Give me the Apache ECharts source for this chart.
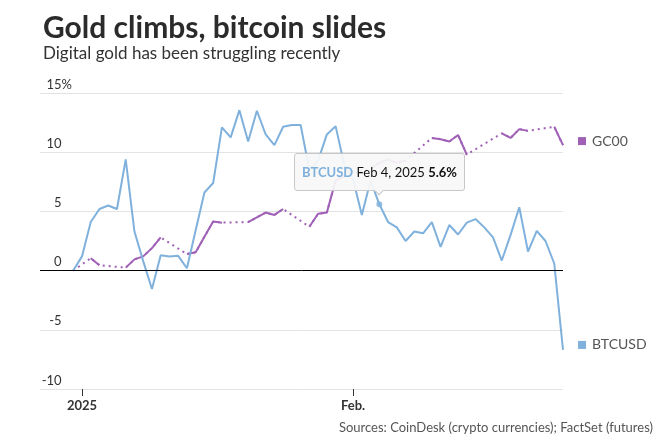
<!DOCTYPE html>
<html>
<head>
<meta charset="utf-8">
<script src="https://cdn.jsdelivr.net/npm/echarts@6/dist/echarts.min.js"></script>
<style>
html, body { margin: 0; padding: 0; background: #fff; }
#chart { width: 670px; height: 443px; }
</style>
</head>
<body>
<div id="chart"></div>
<script>
// bitcoin: daily % change since Dec 31, one value per calendar day
var btcStart = '2024-12-31';
var btcValues = [
  0, 1.2, 4.1, 5.2, 5.5, 5.2, 9.4, 3.3, 0.8, -1.55, 1.3, 1.2, 1.25, 0.2, 3.4,
  6.6, 7.4, 12.1, 11.25, 13.55, 10.9, 13.5, 11.5, 10.6, 12.15, 12.3, 12.3, 8.5, 9.3,
  11.5, 12.2, 8.9, 7.7, 4.7, 7.6, 5.6, 4.1, 3.65, 2.5, 3.3, 3.15, 4.1, 2.0, 3.85,
  3.05, 4.05, 4.35, 3.65, 2.8, 0.85, 3.0, 5.35, 1.6, 3.35, 2.5, 0.6, -6.7
];

// gold futures: trading days only
var goldDates = [
  '2024-12-31', '2025-01-02', '2025-01-03', '2025-01-06', '2025-01-07', '2025-01-08',
  '2025-01-09', '2025-01-10', '2025-01-13', '2025-01-14', '2025-01-15', '2025-01-16',
  '2025-01-17', '2025-01-20', '2025-01-21', '2025-01-22', '2025-01-23', '2025-01-24',
  '2025-01-27', '2025-01-28', '2025-01-29', '2025-01-30', '2025-01-31', '2025-02-03',
  '2025-02-04', '2025-02-05', '2025-02-06', '2025-02-07', '2025-02-10', '2025-02-11',
  '2025-02-12', '2025-02-13', '2025-02-14', '2025-02-18', '2025-02-19', '2025-02-20',
  '2025-02-21', '2025-02-24', '2025-02-25'
];
var goldValues = [
  0, 1.05, 0.45, 0.25, 0.95, 1.2,
  1.9, 2.8, 1.4, 1.55, 2.85, 4.15,
  4.05, 4.1, 4.5, 4.9, 4.7, 5.2,
  3.7, 4.8, 4.9, 7.6, 8.0, 8.6,
  9.1, 9.4, 9.1, 9.3, 11.2, 11.1,
  10.9, 11.45, 9.8, 11.6, 11.2, 11.95,
  11.8, 12.15, 10.6
];

var xTickDates = ['2025-01-01', '2025-02-01'];
var xTickLabels = ['2025', 'Feb.'];
var tipDate = '2025-02-04';

var BLUE = '#7fb1dc';
var PURPLE = '#9f60b6';
var DAY = 864e5;
var MONTHS = ['Jan', 'Feb', 'Mar', 'Apr', 'May', 'Jun', 'Jul', 'Aug', 'Sep', 'Oct', 'Nov', 'Dec'];

function t(s) { return new Date(s + 'T00:00:00').getTime(); }

var btcData = btcValues.map(function (v, i) { return [t(btcStart) + i * DAY, v]; });

var goldAll = goldDates.map(function (d, i) { return [t(d), goldValues[i]]; });
// solid only between consecutive days, dotted line underneath bridges the gaps
var goldSolid = [];
goldAll.forEach(function (p, i) {
  if (i > 0 && p[0] - goldAll[i - 1][0] > DAY * 1.5) goldSolid.push([p[0] - DAY / 2, null]);
  goldSolid.push(p);
});

var tipIdx = Math.round((t(tipDate) - t(btcStart)) / DAY);
var tickTimes = xTickDates.map(t);

var chart = echarts.init(document.getElementById('chart'));
var option = {
  animation: false,
  textStyle: { fontFamily: 'Lato' },
  title: [
    {
      text: 'Gold climbs, bitcoin slides',
      subtext: 'Digital gold has been struggling recently',
      left: 38,
      top: 8,
      itemGap: 2,
      textStyle: { fontFamily: 'Lato', fontSize: 30, fontWeight: 'bold', color: '#2b2b2b' },
      subtextStyle: { fontFamily: 'Lato', fontSize: 17, color: '#333' }
    },
    {
      text: 'Sources: CoinDesk (crypto currencies); FactSet (futures)',
      right: 12,
      bottom: 4,
      textStyle: { fontFamily: 'Lato', fontSize: 13, fontWeight: 'normal', color: '#555' }
    }
  ],
  grid: { left: 40, right: 107, top: 93, bottom: 54, outerBoundsMode: 'none' },
  tooltip: {
    trigger: 'item',
    triggerOn: 'none',
    alwaysShowContent: true,
    position: 'top',
    transitionDuration: 0,
    backgroundColor: 'rgba(248,248,248,0.93)',
    borderColor: '#c8c8c8',
    borderWidth: 1,
    borderRadius: 3,
    padding: [8, 7],
    textStyle: { fontFamily: 'Lato', fontSize: 13, color: '#111' },
    extraCssText: 'box-shadow:none;',
    formatter: function (p) {
      var d = new Date(p.value[0]);
      return '<span style="color:' + BLUE + ';font-weight:bold">BTCUSD</span> ' +
        MONTHS[d.getMonth()] + ' ' + d.getDate() + ', ' + d.getFullYear() +
        ' <b>' + p.value[1].toFixed(1) + '%</b>';
    }
  },
  xAxis: {
    type: 'value',
    min: t('2025-01-01') - 4.8 * DAY,
    max: t('2025-02-25'),
    axisLine: { show: false, onZero: false },
    splitLine: { show: false },
    axisTick: { show: true, customValues: tickTimes, length: 7, lineStyle: { color: '#333' } },
    axisLabel: {
      customValues: tickTimes,
      margin: 10,
      color: '#333',
      fontSize: 13,
      fontWeight: 'bold',
      formatter: function (v) {
        var best = 0;
        tickTimes.forEach(function (tt, i) { if (Math.abs(tt - v) < Math.abs(tickTimes[best] - v)) best = i; });
        return xTickLabels[best];
      }
    }
  },
  yAxis: {
    type: 'value',
    min: -10,
    max: 15,
    interval: 5,
    axisLine: { show: false },
    axisTick: { show: false },
    splitLine: { lineStyle: { color: '#e3e3e3', width: 1 } },
    axisLabel: {
      inside: true,
      margin: 32,
      align: 'right',
      verticalAlign: 'bottom',
      padding: [0, 0, 2, 0],
      color: '#333',
      fontSize: 13,
      formatter: function (v) { return v === 15 ? '15%' : v + '{h|%}'; },
      rich: { h: { color: 'rgba(0,0,0,0)', fontSize: 13, fontFamily: 'Lato' } }
    }
  },
  series: [
    {
      name: 'GC00 gaps',
      type: 'line',
      data: goldAll,
      showSymbol: false,
      silent: true,
      tooltip: { show: false },
      lineStyle: { color: PURPLE, width: 2, type: [2, 4] },
      itemStyle: { color: PURPLE }
    },
    {
      name: 'GC00',
      type: 'line',
      data: goldSolid,
      showSymbol: false,
      silent: true,
      connectNulls: false,
      tooltip: { show: false },
      lineStyle: { color: PURPLE, width: 2 },
      itemStyle: { color: PURPLE },
      endLabel: {
        show: true,
        distance: 15,
        offset: [0, -4],
        formatter: '{sq| }{gap| }GC00',
        color: '#555',
        fontSize: 14,
        rich: {
          sq: { width: 8, height: 8, backgroundColor: PURPLE },
          gap: { width: 6 }
        }
      }
    },
    {
      name: 'BTCUSD',
      type: 'line',
      data: btcData,
      showSymbol: false,
      silent: true,
      tooltip: { show: false },
      lineStyle: { color: BLUE, width: 2 },
      itemStyle: { color: BLUE },
      endLabel: {
        show: true,
        distance: 15,
        offset: [0, -5],
        formatter: '{sq| }{gap| }BTCUSD',
        color: '#555',
        fontSize: 14,
        rich: {
          sq: { width: 8, height: 8, backgroundColor: BLUE },
          gap: { width: 6 }
        }
      },
      markLine: {
        silent: true,
        symbol: 'none',
        label: { show: false },
        lineStyle: { color: '#000', width: 1, type: 'solid' },
        data: [{ yAxis: 0 }]
      }
    },
    {
      name: 'tip',
      type: 'scatter',
      data: [btcData[tipIdx]],
      symbolSize: 6,
      itemStyle: { color: BLUE },
      emphasis: { disabled: true },
      z: 5
    }
  ]
};
chart.setOption(option);
chart.dispatchAction({ type: 'showTip', seriesIndex: 3, dataIndex: 0 });
</script>
</body>
</html>
